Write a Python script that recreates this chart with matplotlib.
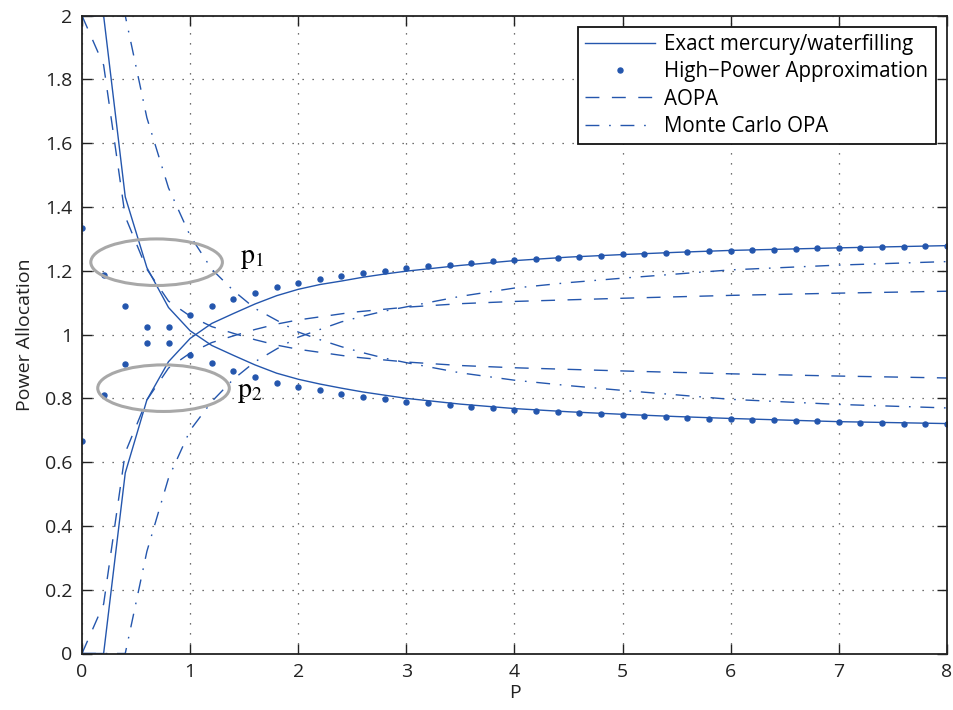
import matplotlib
matplotlib.use("Agg")
import matplotlib.pyplot as plt
from matplotlib.patches import Ellipse

plt.rcParams['font.family'] = ['Open Sans', 'DejaVu Sans']
plt.rcParams['mathtext.fontset'] = 'stix'

# ---------------- data ----------------
P_hp = [0.0, 0.2, 0.4, 0.6, 0.8, 1.0, 1.2, 1.4, 1.6, 1.8, 2.0, 2.2, 2.4, 2.6, 2.8,
        3.0, 3.2, 3.4, 3.6, 3.8, 4.0, 4.2, 4.4, 4.6, 4.8, 5.0, 5.2, 5.4, 5.6, 5.8,
        6.0, 6.2, 6.4, 6.6, 6.8, 7.0, 7.2, 7.4, 7.6, 7.8, 8.0]
hp_upper = [1.333, 1.187, 1.090, 1.023, 1.023, 1.061, 1.090, 1.112, 1.131, 1.148, 1.162,
            1.173, 1.184, 1.192, 1.200, 1.208, 1.214, 1.219, 1.225, 1.230, 1.233, 1.238,
            1.241, 1.244, 1.248, 1.252, 1.254, 1.257, 1.259, 1.261, 1.263, 1.265, 1.266,
            1.268, 1.270, 1.272, 1.273, 1.274, 1.276, 1.278, 1.279]
hp_lower = [0.667, 0.811, 0.907, 0.975, 0.975, 0.937, 0.910, 0.887, 0.866, 0.849, 0.836,
            0.826, 0.815, 0.804, 0.798, 0.790, 0.785, 0.778, 0.773, 0.769, 0.765, 0.760,
            0.756, 0.753, 0.750, 0.747, 0.744, 0.742, 0.739, 0.736, 0.734, 0.732, 0.731,
            0.729, 0.728, 0.726, 0.724, 0.723, 0.721, 0.720, 0.719]

P_exact = [0.0, 0.2, 0.4, 0.6, 0.8, 1.0, 1.2, 1.4, 1.6, 1.8, 2.0, 2.2, 2.4, 2.6, 2.8,
           3.0, 3.5, 4.0, 4.5, 5.0, 5.5, 6.0, 7.0, 8.0]
exact_p1 = [2.0, 2.0, 1.432, 1.210, 1.085, 1.012, 0.966, 0.935, 0.905, 0.879, 0.860, 0.845,
            0.832, 0.820, 0.810, 0.800, 0.782, 0.768, 0.758, 0.750, 0.743, 0.737, 0.727, 0.721]
exact_p2 = [0.0, 0.0, 0.566, 0.795, 0.915, 0.988, 1.035, 1.066, 1.096, 1.122, 1.142, 1.157,
            1.168, 1.180, 1.190, 1.199, 1.217, 1.232, 1.243, 1.251, 1.258, 1.264, 1.272, 1.279]

P_aopa = [0.0, 0.2, 0.4, 0.6, 0.8, 1.0, 1.2, 1.4, 1.6, 1.8, 2.0, 2.5, 3.0, 3.5, 4.0,
          5.0, 6.0, 7.0, 8.0]
aopa_p1 = [2.0, 1.845, 1.370, 1.205, 1.105, 1.058, 1.025, 1.004, 0.984, 0.967, 0.954, 0.930,
           0.914, 0.903, 0.896, 0.886, 0.877, 0.870, 0.864]
aopa_p2 = [0.0, 0.155, 0.630, 0.795, 0.895, 0.942, 0.975, 0.996, 1.016, 1.033, 1.046, 1.070,
           1.086, 1.097, 1.104, 1.114, 1.123, 1.130, 1.136]

P_mc = [0.0, 0.2, 0.4, 0.6, 0.8, 1.0, 1.2, 1.4, 1.6, 1.8, 2.0, 2.2, 2.4, 2.6, 2.8, 3.0,
        3.5, 4.0, 4.5, 5.0, 6.0, 7.0, 8.0]
mc_p1 = [2.0, 2.0, 2.0, 1.680, 1.460, 1.310, 1.205, 1.138, 1.082, 1.045, 1.008, 0.984, 0.962,
         0.943, 0.926, 0.912, 0.880, 0.857, 0.840, 0.825, 0.797, 0.781, 0.770]
mc_p2 = [0.0, 0.0, 0.0, 0.320, 0.550, 0.700, 0.790, 0.860, 0.915, 0.955, 0.992, 1.016, 1.040,
         1.058, 1.074, 1.087, 1.120, 1.146, 1.163, 1.177, 1.203, 1.218, 1.229]

legend_labels = ["Exact mercury/waterfilling", "High\u2212Power Approximation", "AOPA",
                 "Monte Carlo OPA"]
x_ticks = [0, 1, 2, 3, 4, 5, 6, 7, 8]
y_ticks = [0, 0.2, 0.4, 0.6, 0.8, 1.0, 1.2, 1.4, 1.6, 1.8, 2.0]
y_tick_labels = ["0", "0.2", "0.4", "0.6", "0.8", "1", "1.2", "1.4", "1.6", "1.8", "2"]

# ---------------- plot ----------------
blue = '#2456ad'
fig = plt.figure(figsize=(9.54, 7.1), dpi=100)
ax = fig.add_axes([82 / 954, 1 - 653.5 / 710, (947 - 82) / 954, (653.5 - 15.7) / 710])

lw = 1.0
l1, = ax.plot(P_exact, exact_p1, color=blue, lw=lw, solid_joinstyle='miter')
ax.plot(P_exact, exact_p2, color=blue, lw=lw, solid_joinstyle='miter')
l2, = ax.plot(P_hp, hp_upper, linestyle='none', marker='o', ms=3.6, color=blue, mec=blue)
ax.plot(P_hp, hp_lower, linestyle='none', marker='o', ms=3.6, color=blue, mec=blue)
dash = (0, (10, 9))
l3, = ax.plot(P_aopa, aopa_p1, color=blue, lw=lw, linestyle=dash)
ax.plot(P_aopa, aopa_p2, color=blue, lw=lw, linestyle=dash)
dashdot = (0, (10, 7, 1.2, 7))
l4, = ax.plot(P_mc, mc_p1, color=blue, lw=lw, linestyle=dashdot)
ax.plot(P_mc, mc_p2, color=blue, lw=lw, linestyle=dashdot)

for c in [(0.69, 1.227), (0.754, 0.832)]:
    ax.add_patch(Ellipse(c, 1.217, 0.146, fill=False, edgecolor='#a8a8a8', lw=2.2, zorder=5))

ax.text(1.46, 1.225, r'$\mathrm{p}_1$', fontsize=20, va='baseline', ha='left')
ax.text(1.43, 0.805, r'$\mathrm{p}_2$', fontsize=20, va='baseline', ha='left')

ax.set_xlim(0, 8)
ax.set_ylim(0, 2)
ax.set_xticks(x_ticks)
ax.set_yticks(y_ticks)
ax.set_yticklabels(y_tick_labels)
ax.grid(True, color='#444444', linestyle=(0, (1, 7)), lw=0.9)
ax.tick_params(direction='in', length=7, width=1.0, top=True, right=True,
               labelsize=14, colors='#222222', pad=7)
for s in ax.spines.values():
    s.set_linewidth(1.3)
    s.set_color('#222222')

ax.set_xlabel('P', fontsize=14, color='#222222', labelpad=2)
ax.set_ylabel('Power Allocation', fontsize=14, color='#222222', labelpad=8)

leg = ax.legend([l1, l2, l3, l4], legend_labels, loc='upper right', fontsize=14.8,
                frameon=True, fancybox=False, framealpha=1, edgecolor='#111111',
                handlelength=3.4, borderaxespad=0.55, labelspacing=0.3, handletextpad=0.45,
                borderpad=0.35)
leg.get_frame().set_linewidth(1.3)

fig.savefig('out.png', dpi=100)
